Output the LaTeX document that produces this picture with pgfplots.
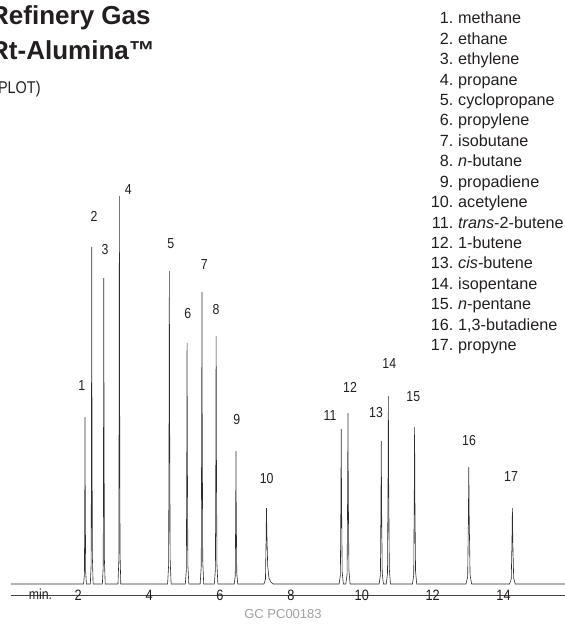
\documentclass[border=0pt]{standalone}
\usepackage{fontspec}
\setmainfont{Liberation Sans}
\newfontfamily\cond{Liberation Sans}[FakeStretch=0.85]
\usepackage{pgfplots}
\pgfplotsset{compat=1.18}
\definecolor{ink}{RGB}{35,31,32}
\definecolor{trace}{RGB}{45,45,45}
\definecolor{codegray}{RGB}{160,160,160}

\begin{document}
\begin{tikzpicture}
% 1 px of the reference = 1 pt; page origin at top left
\begin{axis}[
  at={(10.94pt,-595pt)}, anchor=south west,
  scale only axis,
  width=554.6pt, height=595pt,
  xmin=0.1, xmax=15.75,
  ymin=-11, ymax=584,
  axis x line=bottom, axis y line=none,
  x axis line style={-, draw=ink!85, line width=0.9pt},
  xtick={2,4,6,8,10,12,14}, ytick=\empty,
  major tick length=0pt,
  /pgf/number format/assume math mode=true,
  xticklabel style={anchor=center, inner sep=0pt, text=ink,
    font=\cond\fontsize{15}{15}\selectfont},
  clip=false,
]
\addplot[trace, line width=0.6pt] coordinates {
  (0.1,0)
  (2.15,0) (2.174,10) (2.184,92) (2.19,167) (2.196,92) (2.208,13) (2.23,0)
  (2.34,0) (2.364,20) (2.374,185) (2.38,337) (2.386,185) (2.398,27) (2.42,0)
  (2.68,0) (2.704,18) (2.714,168) (2.72,306) (2.726,168) (2.738,24) (2.76,0)
  (3.12,0) (3.144,23) (3.154,213) (3.16,388) (3.166,213) (3.178,31) (3.20,0)
  (4.52,0) (4.55,19) (4.5625,172) (4.57,313) (4.5775,172) (4.5925,25) (4.62,0)
  (5.02,0) (5.05,14) (5.0625,133) (5.07,241) (5.0775,133) (5.0925,19) (5.12,0)
  (5.44,0) (5.47,18) (5.4825,161) (5.49,292) (5.4975,161) (5.5125,23) (5.54,0)
  (5.84,0) (5.87,15) (5.8825,136) (5.89,248) (5.8975,136) (5.9125,20) (5.94,0)
  (6.40,0) (6.43,8) (6.4425,73) (6.45,133) (6.4575,73) (6.4725,11) (6.50,0)
  (7.24,0) (7.282,5) (7.2995,42) (7.31,76) (7.322,50) (7.345,18) (7.38,6) (7.43,2) (7.50,0)
  (9.36,0) (9.396,9) (9.411,85) (9.42,155) (9.429,85) (9.447,12) (9.48,0)
  (9.55,0) (9.586,10) (9.601,94) (9.61,171) (9.619,94) (9.637,14) (9.67,0)
  (10.49,0) (10.526,9) (10.541,79) (10.55,143) (10.559,79) (10.577,11) (10.61,0)
  (10.69,0) (10.726,11) (10.741,103) (10.75,188) (10.759,103) (10.777,15) (10.81,0)
  (11.43,0) (11.466,9) (11.481,86) (11.49,157) (11.499,86) (11.517,13) (11.55,0)
  (12.94,0) (12.988,7) (13.008,64) (13.02,117) (13.032,64) (13.056,9) (13.10,0)
  (14.17,0) (14.218,5) (14.238,42) (14.25,76) (14.262,42) (14.286,6) (14.33,0)
  (15.75,0)
};
\end{axis}

% title block, partly cut by the left page edge as in the reference
\begin{scope}[every node/.style={inner sep=0pt, text=ink}]
\node[anchor=base west, font=\bfseries\fontsize{26}{26}\selectfont] at (-10pt,-25pt) {Refinery Gas};
\node[anchor=base west, font=\bfseries\fontsize{26}{26}\selectfont] at (-10pt,-59.3pt) {Rt-Alumina™};
\node[anchor=base west, font=\cond\fontsize{17}{17}\selectfont] at (-7pt,-94pt) {(PLOT)};

% peak numbers
\begin{scope}[every node/.append style={font=\cond\fontsize{14.5}{14.5}\selectfont}]
\node at (81.7pt,-386pt) {1};
\node at (94pt,-216pt) {2};
\node at (105pt,-249.3pt) {3};
\node at (128.3pt,-189.3pt) {4};
\node at (170.7pt,-243.3pt) {5};
\node at (187.7pt,-314pt) {6};
\node at (204.3pt,-265pt) {7};
\node at (216pt,-309.3pt) {8};
\node at (236.7pt,-419.3pt) {9};
\node at (266.7pt,-478.3pt) {10};
\node at (330pt,-416pt) {11};
\node at (350pt,-387.3pt) {12};
\node at (376pt,-412.7pt) {13};
\node at (389.3pt,-364pt) {14};
\node at (413.3pt,-396.7pt) {15};
\node at (469pt,-440.7pt) {16};
\node at (511pt,-476.7pt) {17};
\node at (40.5pt,-594pt) {min.};
\end{scope}

% compound list
\foreach \n/\name [count=\i from 0] in {
  1/methane, 2/ethane, 3/ethylene, 4/propane, 5/cyclopropane,
  6/propylene, 7/isobutane, 8/{\textit{n}-butane}, 9/propadiene,
  10/acetylene, 11/{\textit{trans}-2-butene}, 12/1-butene,
  13/{\textit{cis}-butene}, 14/isopentane, 15/{\textit{n}-pentane},
  16/{1,3-butadiene}, 17/propyne}{
  \pgfmathsetmacro\yy{-24-20.4*\i}
  \node[anchor=base east, font=\fontsize{16.2}{16.2}\selectfont] at (453.5pt,\yy pt) {\n.};
  \node[anchor=base west, font=\fontsize{16.2}{16.2}\selectfont] at (458pt,\yy pt) {\name};
}

\node[text=codegray, font=\fontsize{13}{13}\selectfont] at (283pt,-614pt) {GC PC00183};
\end{scope}

\pgfresetboundingbox
\path[use as bounding box] (0pt,0pt) rectangle (564pt,-628pt);
\end{tikzpicture}
\end{document}
